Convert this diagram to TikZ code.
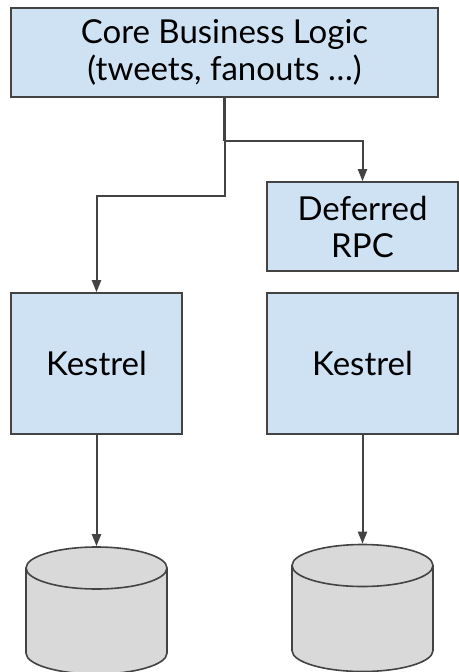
\documentclass[tikz,border=0pt]{standalone}
\usepackage{fontspec}
\setmainfont{Lato}
\usetikzlibrary{positioning,shapes.geometric,arrows.meta}
\definecolor{boxblue}{HTML}{CFE2F3}
\definecolor{diskgray}{HTML}{D9D9D9}
\definecolor{edgegray}{HTML}{434343}
\tikzset{
  box/.style={draw=edgegray,fill=boxblue,line width=1.6pt,font=\fontsize{33}{37}\selectfont,align=center,inner sep=0pt},
  disk/.style={draw=edgegray,fill=diskgray,line width=1.6pt,shape=cylinder,shape border rotate=90,aspect=1,inner sep=21pt,minimum width=141pt,minimum height=127pt,anchor=shape center},
  link/.style={draw=edgegray,line width=2pt,-{Triangle[length=12pt,width=9pt]}}
}
\begin{document}
\begin{tikzpicture}[x=1pt,y=-1pt]
  \useasboundingbox (0,0) rectangle (458,672);

  \node[box,minimum width=427pt,minimum height=89pt] (core) at (224.5,52.5) {Core Business Logic\\(tweets, fanouts \dots)};
  \node[box,minimum width=191pt,minimum height=89pt] (deferred) at (362.5,226.5) {Deferred\\RPC};
  \node[box,minimum width=171pt,minimum height=141pt] (kestrelA) at (96.5,363.5) {Kestrel};
  \node[box,minimum width=191pt,minimum height=141pt] (kestrelB) at (362.5,363.5) {Kestrel};

  \node[disk] (diskA) at (96.5,610.5) {};
  \node[disk] (diskB) at (362.5,608) {};

  \draw[edgegray,line width=2.6pt] (core.south) -- ++(0,43) coordinate (split);
  \draw[link] (split) -| (deferred.north);
  \draw[link] (split) -- ++(0,55) -| (kestrelA.north);
  \draw[link] (kestrelA.south) -- (diskA.north);
  \draw[link] (kestrelB.south) -- (diskB.north);
\end{tikzpicture}
\end{document}
